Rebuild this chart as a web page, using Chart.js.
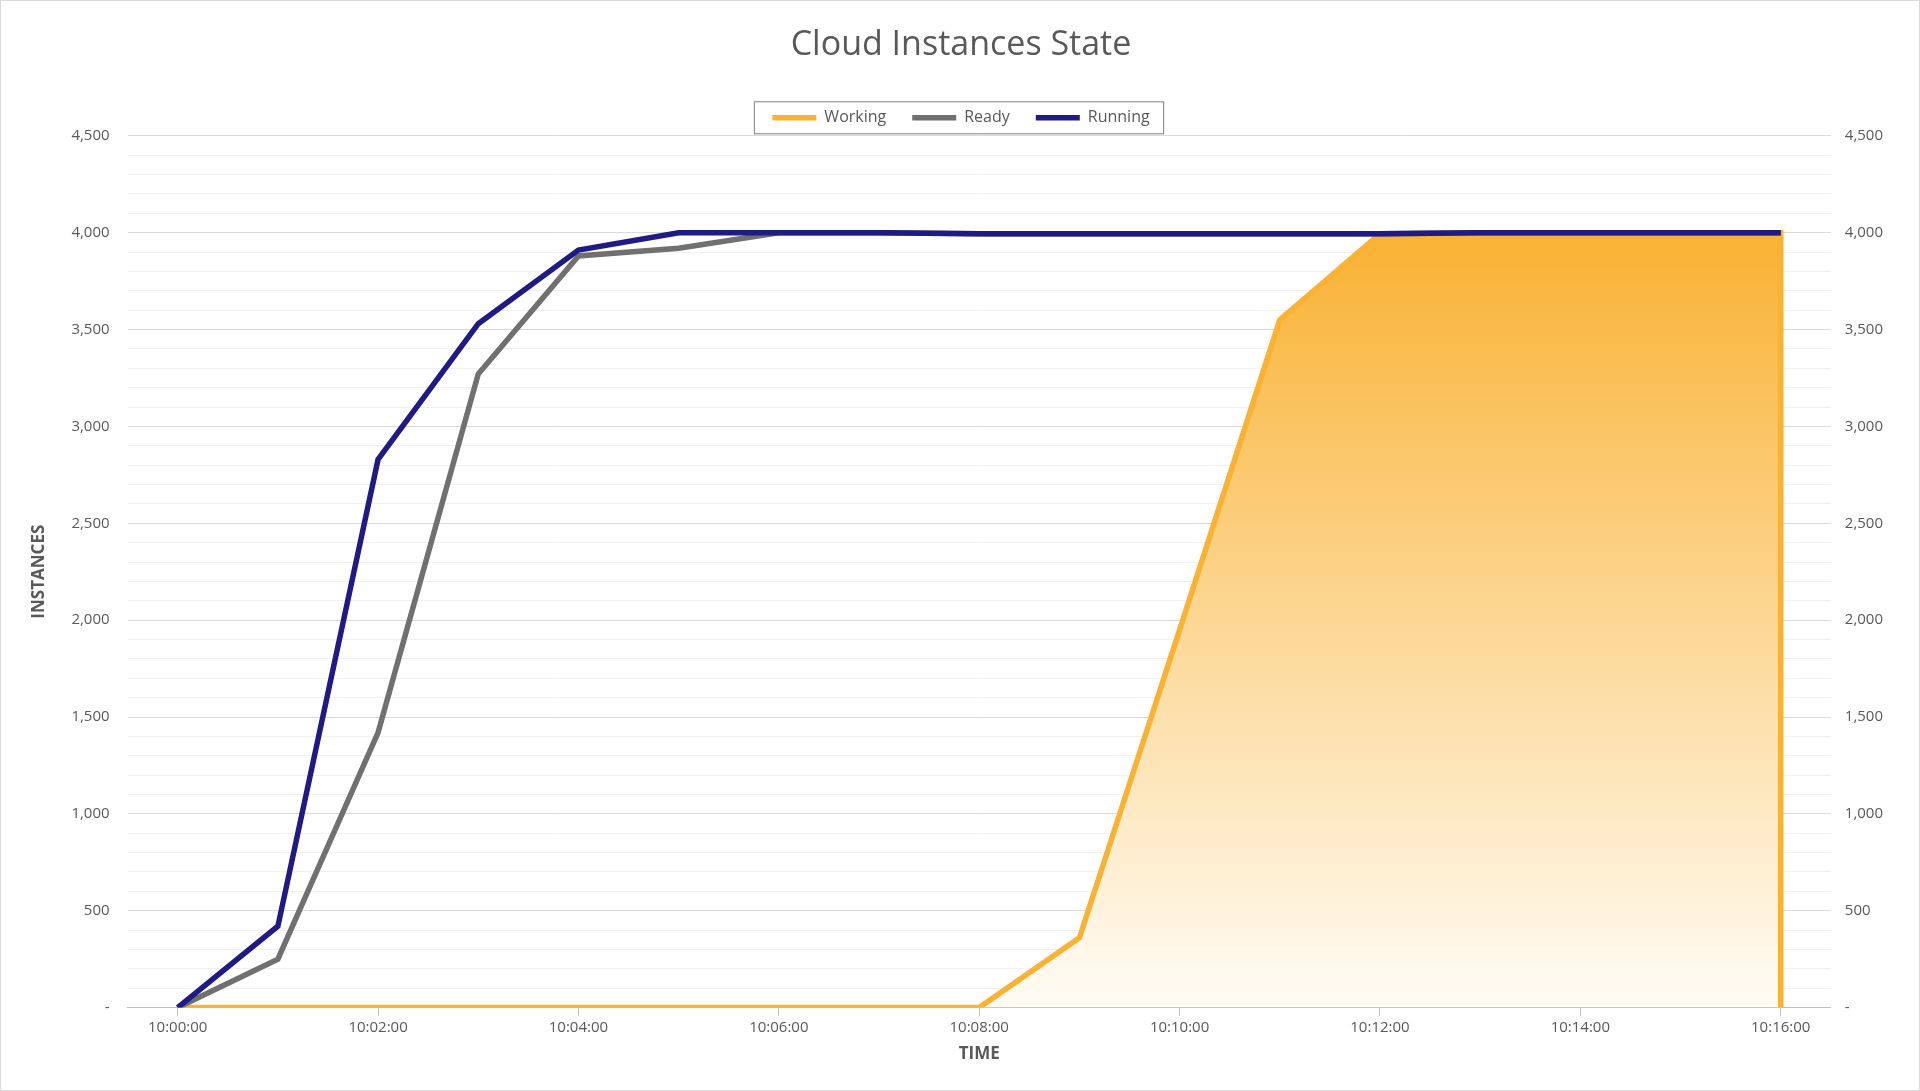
<!DOCTYPE html>
<html lang="en">
<head>
    <meta charset="utf-8">
    <title>Cloud Instances State</title>
    <script src="https://cdn.jsdelivr.net/npm/chart.js"></script>
    <style>
        html, body { margin: 0; padding: 0; background: #fff; }
        #wrap { width: 1918px; height: 1089px; border: 1px solid #d9d9d9; }
    </style>
</head>
<body>
    <div id="wrap"><canvas id="cloudChart"></canvas></div>

    <script>
        // minutes after 10:00:00
        const minutes = [0, 1, 2, 3, 4, 5, 6, 7, 8, 9, 10, 11, 12, 13, 14, 15, 16];
        const timeLabels = ['10:00:00', '10:01:00', '10:02:00', '10:03:00', '10:04:00', '10:05:00', '10:06:00', '10:07:00', '10:08:00',
            '10:09:00', '10:10:00', '10:11:00', '10:12:00', '10:13:00', '10:14:00', '10:15:00', '10:16:00'];
        const working = [0, 0, 0, 0, 0, 0, 0, 0, 0, 360, 1950, 3550, 3995, 3995, 4000, 4000, 4000];
        const ready = [0, 250, 1420, 3270, 3880, 3920, 4000, 4000, 3995, 3995, 3995, 3995, 3995, 4000, 4000, 4000, 4000];
        const running = [0, 420, 2830, 3530, 3910, 4000, 4000, 4000, 3995, 3995, 3995, 3995, 3995, 4000, 4000, 4000, 4000];

        const pts = (arr) => arr.map((v, i) => ({ x: minutes[i], y: v }));
        // working area closes with a drop to zero at the last time
        const workingPts = pts(working).concat([{ x: 16, y: 0 }]);

        const fontFam = '"Open Sans", "Noto Sans", sans-serif';
        const grey = '#595959';

        const fmt = (v) => v === 0 ? '-' : (v % 500 === 0 ? v.toLocaleString('en-US') : '');

        const legendBox = {
            id: 'legendBox',
            afterDraw(chart) {
                const l = chart.legend;
                if (!l || !l.legendHitBoxes.length) return;
                const boxes = l.legendHitBoxes;
                const x0 = boxes[0].left - 18, x1 = boxes[boxes.length - 1].left + boxes[boxes.length - 1].width + 14;
                const y0 = boxes[0].top - 8, y1 = boxes[0].top + boxes[0].height + 8;
                const c = chart.ctx;
                c.save();
                c.strokeStyle = '#7f7f7f';
                c.lineWidth = 1;
                c.strokeRect(x0, y0, x1 - x0, y1 - y0);
                c.restore();
            }
        };

        new Chart(document.getElementById('cloudChart'), {
            type: 'line',
            data: {
                datasets: [{
                    label: 'Working',
                    data: workingPts,
                    borderColor: '#F9B233',
                    borderWidth: 5.5,
                    pointRadius: 0,
                    fill: 'origin',
                    backgroundColor: (ctx) => {
                        const a = ctx.chart.chartArea;
                        if (!a) return 'rgba(249,178,51,0.5)';
                        const g = ctx.chart.ctx.createLinearGradient(0, ctx.chart.scales.y.getPixelForValue(4000), 0, a.bottom);
                        g.addColorStop(0, 'rgba(249,178,51,1)');
                        g.addColorStop(1, 'rgba(255,252,245,1)');
                        return g;
                    },
                    order: 3
                }, {
                    label: 'Ready',
                    data: pts(ready),
                    borderColor: '#707070',
                    borderWidth: 5.5,
                    pointRadius: 0,
                    fill: false,
                    order: 2
                }, {
                    label: 'Running',
                    data: pts(running),
                    borderColor: '#1F1A84',
                    borderWidth: 5.5,
                    pointRadius: 0,
                    fill: false,
                    order: 1
                }]
            },
            options: {
                responsive: true,
                maintainAspectRatio: false,
                animation: false,
                layout: { padding: { left: 24, right: 22, top: 10, bottom: 22 } },
                plugins: {
                    title: {
                        display: true,
                        text: 'Cloud Instances State',
                        color: grey,
                        font: { family: fontFam, size: 34, weight: 'normal' },
                        padding: { top: 14, bottom: 18 }
                    },
                    legend: {
                        position: 'top',
                        labels: {
                            color: grey,
                            font: { family: fontFam, size: 16 },
                            usePointStyle: true,
                            pointStyle: 'line',
                            pointStyleWidth: 44,
                            boxHeight: 5,
                            padding: 26,
                            sort: (a, b) => a.datasetIndex - b.datasetIndex
                        }
                    },
                    tooltip: { enabled: false }
                },
                scales: {
                    x: {
                        type: 'linear',
                        min: -0.5,
                        max: 16.5,
                        afterBuildTicks: (ax) => { ax.ticks = minutes.filter(m => m % 2 === 0).map(m => ({ value: m })); },
                        ticks: {
                            color: grey,
                            font: { family: fontFam, size: 15 },
                            callback: (v) => timeLabels[v] || '',
                            maxRotation: 0
                        },
                        grid: { drawOnChartArea: false, color: '#bfbfbf', tickLength: 8 },
                        border: { color: '#bfbfbf' },
                        title: {
                            display: true,
                            text: 'TIME',
                            color: grey,
                            font: { family: fontFam, size: 17, weight: 'bold' }
                        }
                    },
                    y: {
                        min: 0,
                        max: 4500,
                        ticks: {
                            stepSize: 100,
                            autoSkip: false,
                            color: grey,
                            font: { family: fontFam, size: 15 },
                            callback: fmt,
                            padding: 18
                        },
                        grid: {
                            color: (c) => c.tick.value % 500 === 0 ? '#d9d9d9' : '#f0f0f0',
                            drawTicks: false
                        },
                        border: { display: false },
                        title: {
                            display: true,
                            text: 'INSTANCES',
                            color: grey,
                            font: { family: fontFam, size: 17, weight: 'bold' }
                        }
                    },
                    y2: {
                        position: 'right',
                        min: 0,
                        max: 4500,
                        ticks: {
                            stepSize: 100,
                            autoSkip: false,
                            color: grey,
                            font: { family: fontFam, size: 15 },
                            callback: fmt,
                            padding: 14
                        },
                        grid: { drawOnChartArea: false, drawTicks: false },
                        border: { display: false }
                    }
                }
            },
            plugins: [legendBox]
        });
    </script>
</body>
</html>
